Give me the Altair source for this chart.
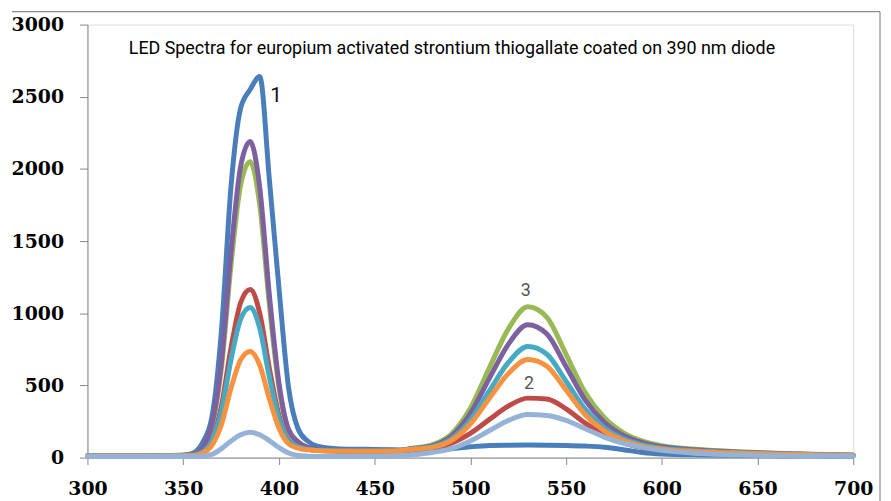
import altair as alt
import pandas as pd

wavelength = [300, 320, 340, 350, 355, 360, 365, 370, 375, 380, 385, 390, 395, 400, 405, 410, 415, 420,
              430, 440, 450, 460, 470, 480, 490, 500, 510, 520, 530, 540, 550, 560, 570, 580, 590, 600,
              620, 640, 660, 680, 700]

s_blue = [12, 12, 14, 18, 30, 100, 280, 880, 1880, 2420, 2550, 2640, 1930, 1180, 490, 200, 115, 80,
          62, 58, 57, 55, 52, 52, 62, 75, 84, 86, 87, 86, 84, 80, 72, 55, 35, 25,
          18, 15, 13, 12, 11]
s_red = [12, 12, 13, 14, 16, 41, 127, 358, 761, 1073, 1165, 1000, 620, 295, 125, 80, 59, 51,
         47, 45, 45, 45, 55, 68, 100, 168, 265, 358, 412, 406, 338, 239, 159, 102, 69, 50,
         35, 25, 20, 16, 14]
s_green = [12, 12, 13, 15, 20, 63, 216, 623, 1337, 1887, 2050, 1750, 1060, 490, 188, 106, 69, 55,
           47, 45, 45, 46, 65, 88, 162, 342, 624, 895, 1045, 972, 716, 450, 276, 172, 114, 83,
           56, 41, 30, 23, 18]
s_purple = [12, 12, 13, 15, 20, 66, 230, 665, 1428, 2016, 2190, 1870, 1130, 520, 197, 110, 71, 56,
            47, 45, 45, 46, 63, 82, 147, 305, 551, 788, 920, 856, 631, 398, 245, 153, 103, 75,
            51, 38, 28, 22, 17]
s_teal = [12, 12, 13, 14, 15, 38, 115, 320, 680, 958, 1040, 895, 560, 270, 117, 76, 57, 50,
          46, 45, 45, 45, 60, 75, 129, 260, 464, 661, 770, 716, 529, 335, 207, 131, 88, 65,
          45, 34, 25, 20, 16]
s_orange = [12, 12, 12, 13, 14, 30, 84, 229, 482, 677, 735, 640, 410, 205, 96, 66, 54, 49,
            45, 44, 44, 44, 58, 71, 118, 233, 412, 585, 680, 633, 468, 297, 185, 118, 80, 59,
            41, 31, 24, 19, 15]
s_light = [8, 8, 8, 8, 8, 10, 22, 62, 115, 158, 175, 158, 118, 70, 32, 15, 10, 8,
           8, 8, 9, 12, 20, 35, 62, 115, 188, 258, 298, 292, 258, 200, 142, 98, 71, 50,
           28, 18, 13, 11, 10]

series_names = ["s1", "s2", "s3", "s4", "s5", "s6", "s7"]
series_values = [s_blue, s_red, s_green, s_purple, s_teal, s_orange, s_light]
series_colors = ["#4A7EBB", "#BE4B48", "#98B954", "#7D60A0", "#46AAC5", "#F69240", "#95B3D7"]

x_ticks = [300, 350, 400, 450, 500, 550, 600, 650, 700]
y_ticks = [0, 500, 1000, 1500, 2000, 2500, 3000]

title_text = "LED Spectra for europium activated strontium thiogallate coated on 390 nm diode"

note_text = ["1", "2", "3"]
note_x = [398.6, 530.7, 528.9]
note_y = [2505, 509, 1151]
note_size = [21, 18, 18]
note_color = ["#111111", "#555555", "#555555"]

rows = []
for name, vals in zip(series_names, series_values):
    for w, v in zip(wavelength, vals):
        rows.append({"series": name, "wl": w, "val": v})
df = pd.DataFrame(rows)

notes = pd.DataFrame({"t": note_text, "x": note_x, "y": note_y, "s": note_size, "c": note_color})

xscale = alt.Scale(domain=[300, 700], nice=False, zero=False)
yscale = alt.Scale(domain=[0, 3000], nice=False)

axis_common = dict(
    domainColor="#868686", tickColor="#868686", grid=False, title=None, labelFlush=False,
    labelFont="DejaVu Serif", labelFontWeight="bold", labelFontSize=19, labelColor="#000000",
)

lines = alt.Chart(df).mark_line(strokeWidth=5, interpolate="monotone", strokeCap="round",
                                strokeJoin="round").encode(
    x=alt.X("wl:Q", scale=xscale,
            axis=alt.Axis(values=x_ticks, tickSize=7, labelPadding=15, format="d", **axis_common)),
    y=alt.Y("val:Q", scale=yscale,
            axis=alt.Axis(values=y_ticks, tickSize=8, labelPadding=16, format="d", **axis_common)),
    color=alt.Color("series:N", scale=alt.Scale(domain=series_names, range=series_colors), legend=None),
    detail="series:N",
)

note_marks = alt.Chart(notes).mark_text(font="Roboto", baseline="middle", align="center").encode(
    x=alt.X("x:Q", scale=xscale),
    y=alt.Y("y:Q", scale=yscale),
    text="t:N",
    size=alt.Size("s:Q", scale=None, legend=None),
    color=alt.Color("c:N", scale=None, legend=None),
)

title_mark = alt.Chart(pd.DataFrame({"t": [title_text]})).mark_text(
    font="Roboto", fontSize=18,
    align="center", baseline="middle", color="#000000").encode(
    x=alt.value(367), y=alt.value(25), text="t:N")

top_border = alt.Chart(pd.DataFrame({"a": [0]})).mark_rule(color="#8c8c8c", strokeWidth=1.2).encode(
    x=alt.value(-76), x2=alt.value(798), y=alt.value(-13))
right_border = alt.Chart(pd.DataFrame({"a": [0]})).mark_rule(color="#8c8c8c", strokeWidth=1.2).encode(
    x=alt.value(798), y=alt.value(-13), y2=alt.value(480))

chart = alt.layer(lines, note_marks, title_mark, top_border, right_border).properties(
    width=771, height=436,
    padding={"left": 80, "top": 15, "right": 30, "bottom": 42},
    autosize=alt.AutoSizeParams(type="none"),
).configure_view(stroke=None).configure(background="#ffffff")

chart.save("out.html", embed_options={"renderer": "svg", "actions": False})
